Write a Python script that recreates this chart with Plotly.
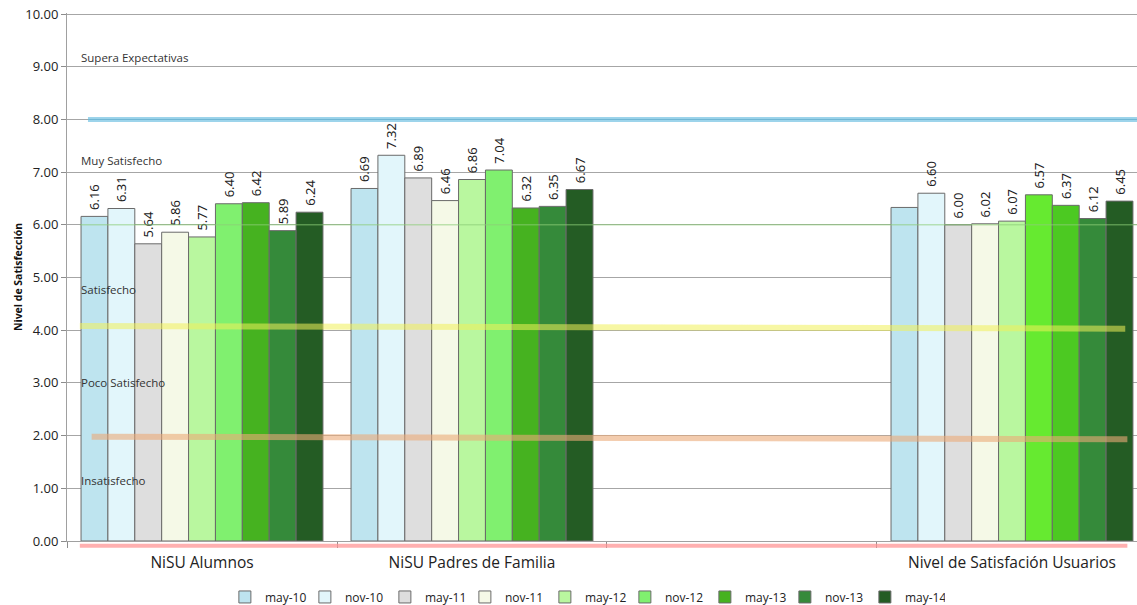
import plotly.graph_objects as go

categories = ["NiSU Alumnos", "NiSU Padres de Familia", " ", "Nivel de Satisfación Usuarios"]
series = ["may-10", "nov-10", "may-11", "nov-11", "may-12", "nov-12", "may-13", "nov-13", "may-14"]

alumnos = [6.16, 6.31, 5.64, 5.86, 5.77, 6.40, 6.42, 5.89, 6.24]
padres = [6.69, 7.32, 6.89, 6.46, 6.86, 7.04, 6.32, 6.35, 6.67]
usuarios = [6.33, 6.60, 6.00, 6.02, 6.07, 6.57, 6.37, 6.12, 6.45]
usuarios_label_shown = [False, True, True, True, True, True, True, True, True]

colors_main = ["#BEE4EF", "#E2F6FB", "#DEDEDE", "#F5F9E7", "#B9F79F", "#80F06F", "#46B220", "#358A3A", "#245C24"]
colors_usu = ["#BEE4EF", "#E2F6FB", "#DEDEDE", "#F5F9E7", "#B9F79F", "#66EA30", "#4CC922", "#358A3A", "#245C24"]

levels = ["Supera Expectativas", "Muy Satisfecho", "Satisfecho", "Poco Satisfecho", "Insatisfecho"]
level_pos = [9.18, 7.23, 4.78, 3.0, 1.14]

PAD = "\u00a0"

fig = go.Figure()
for i, name in enumerate(series):
    ys = [alumnos[i], padres[i], None, usuarios[i]]
    txt = [PAD + f"{alumnos[i]:.2f}", PAD + f"{padres[i]:.2f}", "",
           PAD + f"{usuarios[i]:.2f}" if usuarios_label_shown[i] else ""]
    fig.add_trace(go.Bar(
        x=categories, y=ys, name=name, text=txt,
        textposition="outside", textangle=-90, constraintext="none",
        textfont=dict(family="Noto Sans", size=13, color="#222222"),
        cliponaxis=False,
        marker=dict(color=[colors_main[i], colors_main[i], colors_main[i], colors_usu[i]],
                    line=dict(color="#6A6A6A", width=1)),
    ))

shapes = [
    dict(type="line", xref="paper", yref="y", x0=0.0196, x1=1.0, y0=8.0, y1=8.0,
         line=dict(color="rgba(140,205,232,0.85)", width=5), layer="above"),
    dict(type="line", xref="paper", yref="y", x0=0.0196, x1=1.0, y0=8.0, y1=8.0,
         line=dict(color="rgba(90,170,205,0.6)", width=1), layer="above"),
    dict(type="line", xref="paper", yref="y", x0=0.012, x1=1.0, y0=6.0, y1=6.0,
         line=dict(color="rgba(140,205,120,0.8)", width=1), layer="above"),
    dict(type="line", xref="paper", yref="y", x0=0.012, x1=0.989, y0=4.08, y1=4.03,
         line=dict(color="rgba(240,240,90,0.55)", width=6), layer="above"),
    dict(type="line", xref="paper", yref="y", x0=0.023, x1=0.991, y0=1.98, y1=1.93,
         line=dict(color="rgba(235,170,120,0.6)", width=6), layer="above"),
    dict(type="line", xref="paper", yref="paper", x0=0.012, x1=0.991, y0=-0.009, y1=-0.009,
         line=dict(color="rgba(255,150,150,0.75)", width=4), layer="above"),
]

annotations = []
for lab, yv in zip(levels, level_pos):
    annotations.append(dict(text=lab, xref="paper", yref="y", x=0.011, y=yv,
                            xanchor="left", yanchor="middle", showarrow=False,
                            font=dict(family="Open Sans", size=11.5, color="#333333")))

fig.update_layout(
    width=1137, height=605,
    margin=dict(l=67, r=0, t=13, b=64, autoexpand=False),
    paper_bgcolor="white", plot_bgcolor="white",
    barmode="group", bargap=0.104, bargroupgap=0,
    shapes=shapes, annotations=annotations,
    font=dict(family="Open Sans", color="#222222"),
    legend=dict(orientation="h", x=0.484, xanchor="center", y=-0.106, yanchor="middle",
                font=dict(family="Open Sans", size=12, color="#222222"),
                itemwidth=30, entrywidth=35, entrywidthmode="pixels", tracegroupgap=0),
    showlegend=True,
)
fig.update_xaxes(
    type="category", categoryorder="array", categoryarray=categories,
    range=[-0.5, 3.463], tickson="boundaries", ticks="outside", ticklen=6,
    tickcolor="#8C8C8C", showline=True, linecolor="#A0A0A0", linewidth=1,
    showgrid=False, tickfont=dict(family="Open Sans", size=15.5, color="#222222"),
    ticklabelstandoff=7, automargin=False,
)
fig.update_yaxes(
    range=[0, 10.02], tickvals=[0, 1, 2, 3, 4, 5, 6, 7, 8, 9, 10], tickformat=".2f",
    ticks="outside", ticklen=5, ticklabeloverflow="allow",
    tickcolor="#8C8C8C", showline=True, linecolor="#A0A0A0", linewidth=1,
    showgrid=True, gridcolor="#A6A6A6", gridwidth=1, zeroline=False,
    tickfont=dict(family="Open Sans", size=13, color="#222222"),
    automargin=False,
    title=dict(text="<b>Nivel de Satisfección</b>", standoff=0,
               font=dict(family="Open Sans", size=10.5, color="#111111")),
)

fig.write_html(
    "out.html",
    config={"displayModeBar": False},
    post_script="document.body.style.margin='0';document.body.style.overflow='hidden';",
)
